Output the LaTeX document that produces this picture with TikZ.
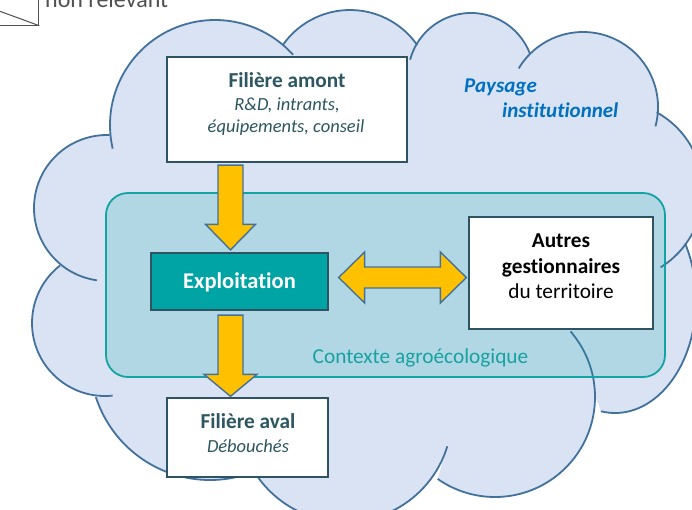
\documentclass[tikz,border=0pt]{standalone}
\usepackage{fontspec}
\setmainfont[Ligatures=NoCommon]{Carlito}
\usetikzlibrary{calc}
\definecolor{cloudfill}{HTML}{DAE3F3}
\definecolor{cloudline}{HTML}{41719C}
\definecolor{ctxline}{HTML}{14A3A3}
\definecolor{ctxtext}{HTML}{17A2A2}
\definecolor{tealfill}{HTML}{00A4A4}
\definecolor{boxline}{HTML}{2E5363}
\definecolor{titlecol}{HTML}{2C5662}
\definecolor{arrowfill}{HTML}{FFC000}
\definecolor{arrowline}{HTML}{44719A}
\definecolor{paysage}{HTML}{0070C0}
\definecolor{leggray}{HTML}{505050}
\tikzset{
  cloudarc/.style={draw=cloudline, line width=1.8pt},
  whitebox/.style={draw=boxline, fill=white, line width=1.3pt, inner sep=0pt},
  barrow/.style={draw=arrowline, fill=arrowfill, line width=1.4pt, line join=miter},
  fA/.style={font=\fontsize{21.3}{25}\selectfont},
  fAb/.style={font=\fontsize{21.3}{25}\selectfont\bfseries},
  fB/.style={font=\fontsize{18.5}{22}\selectfont\itshape},
  lbl/.style={anchor=base, inner sep=0pt},
}
\begin{document}
\begin{tikzpicture}[x=1pt,y=1pt]
\useasboundingbox (0,0) rectangle (692,-509);

% legend (cropped)
\node[draw=leggray, fill=white, line width=1pt, minimum width=70, minimum height=60, anchor=south east, inner sep=0pt] (legbox) at (39.3,-25.7) {};
\coordinate (legd) at (-20,-4);
\draw[leggray, line width=1pt] (legd) -- (legbox.south east);
\node[anchor=base west, text=leggray, inner sep=0pt, font=\fontsize{24}{28}\selectfont] (legtext) at (45,-7) {non relevant};

% cloud fill
\fill[cloudfill]
  ($(215,-125)+(193:105)$) arc[start angle=193,end angle=42,radius=105]
  -- ($(350,-92)+(145:82)$) arc[start angle=145,end angle=35,radius=82]
  -- ($(471,-76)+(165:63)$) arc[start angle=165,end angle=21,radius=63]
  -- ($(583,-107)+(149:75)$) arc[start angle=149,end angle=-15,radius=75]
  -- ($(613,-191)+(61:90)$) arc[start angle=61,end angle=-58,radius=90]
  -- ($(615,-300)+({81*cos(30)},{113*sin(30)})$) arc[start angle=30,end angle=-100,x radius=81,y radius=113]
  -- ($(495,-397)+(41:100)$) arc[start angle=41,end angle=-125,radius=100]
  -- ($(345,-415)+(-17:107)$) arc[start angle=-17,end angle=-146,radius=107]
  -- ($(210,-360)+(-70:120)$) arc[start angle=-70,end angle=-162,radius=120]
  -- ($(105,-323)+(276:73)$) arc[start angle=276,end angle=128,radius=73]
  -- ($(107,-208)+(262:73)$) arc[start angle=262,end angle=88,radius=73]
  -- cycle;
% cloud outline arcs
\draw[cloudarc] ($(215,-125)+(193:105)$) arc[start angle=193,end angle=42,radius=105];
\draw[cloudarc] ($(350,-92)+(145:82)$) arc[start angle=145,end angle=35,radius=82];
\draw[cloudarc] ($(471,-76)+(165:63)$) arc[start angle=165,end angle=21,radius=63];
\draw[cloudarc] ($(583,-107)+(149:75)$) arc[start angle=149,end angle=-15,radius=75];
\draw[cloudarc] ($(613,-191)+(61:90)$) arc[start angle=61,end angle=-58,radius=90];
\draw[cloudarc] ($(615,-300)+({81*cos(30)},{113*sin(30)})$) arc[start angle=30,end angle=-100,x radius=81,y radius=113];
\draw[cloudarc] ($(495,-397)+(41:100)$) arc[start angle=41,end angle=-125,radius=100];
\draw[cloudarc] ($(345,-415)+(-17:107)$) arc[start angle=-17,end angle=-146,radius=107];
\draw[cloudarc] ($(210,-360)+(-70:120)$) arc[start angle=-70,end angle=-162,radius=120];
\draw[cloudarc] ($(105,-323)+(276:73)$) arc[start angle=276,end angle=128,radius=73];
\draw[cloudarc] ($(107,-208)+(262:73)$) arc[start angle=262,end angle=88,radius=73];

% paysage institutionnel
\node[anchor=base west, inner sep=0pt, text=paysage, font=\fontsize{21}{25}\selectfont\bfseries\itshape] (pay1) at (464,-92) {Paysage};
\node[anchor=base west, inner sep=0pt, text=paysage, font=\fontsize{21}{25}\selectfont\bfseries\itshape] (pay2) at (502,-117) {institutionnel};

% contexte agroecologique
\node[draw=ctxline, line width=1.8pt, fill=tealfill, fill opacity=0.18, draw opacity=1, rounded corners=22pt, minimum width=559, minimum height=184, inner sep=0pt] (ctx) at (385.5,-285) {};
\node[lbl, text=ctxtext, fA] (ctxtext) at (420.5,-363) {Contexte agroécologique};

% boxes
\node[whitebox, minimum width=240, minimum height=105] (amont) at (287,-109.5) {};
\node[lbl, text=titlecol, fAb] (amontT) at (287,-87) {Filière amont};
\node[lbl, text=titlecol, fB] (amontS1) at (287,-110) {R\&D, intrants,};
\node[lbl, text=titlecol, fB] (amontS2) at (286,-132) {équipements, conseil};

\node[draw=boxline, fill=tealfill, line width=1.3pt, inner sep=0pt, minimum width=177, minimum height=57] (expl) at (239.5,-281.5) {};
\node[lbl, text=white, font=\fontsize{22.5}{26}\selectfont\bfseries] (explT) at (239.5,-288.5) {Exploitation};

\node[whitebox, minimum width=184, minimum height=112] (autres) at (561,-273) {};
\node[lbl, text=black, fAb] (autres1) at (561,-247) {Autres};
\node[lbl, text=black, fAb] (autres2) at (561,-273) {gestionnaires};
\node[lbl, text=black, fA] (autres3) at (561,-298) {du territoire};

\node[whitebox, minimum width=161, minimum height=79] (aval) at (247.5,-437.5) {};
\node[lbl, text=titlecol, fAb] (avalT) at (248,-428) {Filière aval};
\node[lbl, text=titlecol, fB] (avalS) at (248,-452) {Débouchés};

% block arrows
\coordinate (ax) at (230.5,0);
\coordinate (ay) at (0,-277.5);
\draw[barrow] let \p1=(ax |- amont.south), \p2=(ax |- expl.north) in
  (\x1-12.5pt,\y1-2.5pt) -- (\x1+12.5pt,\y1-2.5pt) -- (\x1+12.5pt,\y2+28pt) -- (\x1+25pt,\y2+28pt)
  -- (\x1,\y2+2.5pt) -- (\x1-25pt,\y2+28pt) -- (\x1-12.5pt,\y2+28pt) -- cycle;
\draw[barrow] let \p1=(ax |- expl.south), \p2=(ax |- aval.north) in
  (\x1-12.5pt,\y1-4.5pt) -- (\x1+12.5pt,\y1-4.5pt) -- (\x1+12.5pt,\y2+23pt) -- (\x1+26.5pt,\y2+23pt)
  -- (\x1,\y2+1pt) -- (\x1-26.5pt,\y2+23pt) -- (\x1-12.5pt,\y2+23pt) -- cycle;
\draw[barrow] let \p1=(expl.east |- ay), \p2=(autres.west |- ay) in
  (\x1+10pt,\y1) -- (\x1+36pt,\y1+25.5pt) -- (\x1+36pt,\y1+10.5pt) -- (\x2-28pt,\y1+10.5pt)
  -- (\x2-28pt,\y1+25.5pt) -- (\x2-2pt,\y1) -- (\x2-28pt,\y1-25.5pt) -- (\x2-28pt,\y1-10.5pt)
  -- (\x1+36pt,\y1-10.5pt) -- (\x1+36pt,\y1-25.5pt) -- cycle;
\end{tikzpicture}
\end{document}
